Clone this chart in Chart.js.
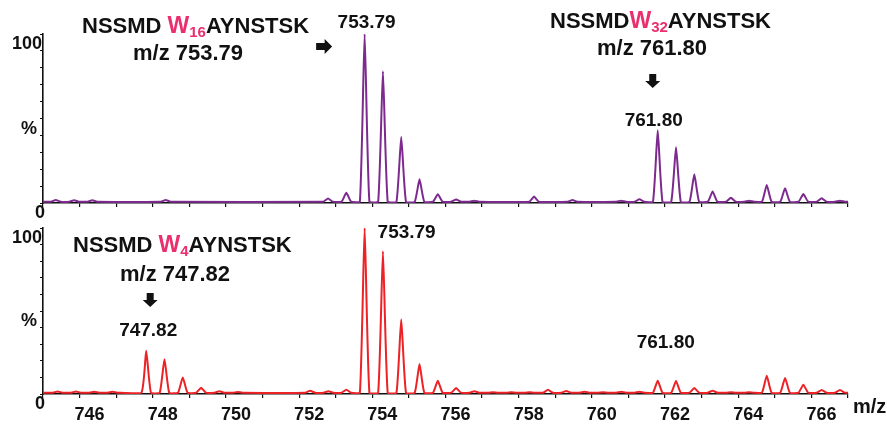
<!DOCTYPE html>
<html>
<head>
<meta charset="utf-8">
<title>NSSMDWAYNSTSK isotope envelopes</title>
<script src="https://cdn.jsdelivr.net/npm/chart.js@4.4.1/dist/chart.umd.min.js"></script>
<style>
  html, body { margin: 0; padding: 0; background: #fff; }
  #wrap { position: relative; width: 887px; height: 426px; }
  canvas { position: absolute; left: 0; }
  #topSpec { top: 0; }
  #botSpec { top: 215px; }
</style>
</head>
<body>
<div id="wrap">
  <canvas id="topSpec" width="887" height="222"></canvas>
  <canvas id="botSpec" width="887" height="211"></canvas>
</div>
<script>
// m/z window and axis labels
const mzMin = 745;
const mzMax = 767;
const yTickValues = [0, 50, 100];
const yTickText = ['0', '%', '100'];

// upper trace: peak centroids (m/z) and relative intensity (%)
const topMz = [745.35, 745.85, 746.35, 748.35, 752.79, 753.29, 753.79, 754.29, 754.79, 755.29,
  755.79, 756.29, 756.79, 758.42, 759.47, 760.80, 761.30, 761.80, 762.30, 762.80,
  763.30, 763.80, 764.30, 764.78, 765.28, 765.78, 766.28, 766.78];
const topPct = [1.8, 1.6, 1.6, 1.8, 2.6, 6, 100, 78, 39, 14,
  5.2, 2, 1.4, 3.8, 1.8, 1.4, 2.2, 43, 33, 17,
  6.8, 3.1, 1.4, 10.7, 8.7, 5.3, 2.8, 1.4];

// lower trace
const botMz = [745.40, 745.90, 746.40, 746.90, 747.82, 748.32, 748.82, 749.32, 749.82, 750.32,
  752.30, 752.80, 753.29, 753.79, 754.29, 754.79, 755.29, 755.79, 756.29, 756.79,
  757.30, 757.80, 758.30, 758.80, 759.30, 759.80, 760.30, 760.80, 761.30, 761.80,
  762.30, 762.80, 763.30, 763.80, 764.30, 764.78, 765.28, 765.78, 766.28, 766.78];
const botPct = [1.5, 1.5, 1.4, 1.3, 26, 21, 10, 3.8, 1.6, 1.2,
  2, 1.6, 2.6, 100, 86, 45, 18, 8, 3.6, 1.6,
  1.1, 1.1, 1.1, 2.5, 1.8, 1.3, 1, 1.4, 1.4, 8,
  7.8, 3.6, 2, 1.1, 1.1, 11, 9.7, 5.6, 2.4, 2.4];

// labelled peaks
const topLabelMz = [753.79, 761.80];
const botLabelMz = [747.82, 753.79, 761.80];

// look
const ink = '#111';
const pink = '#ea2e6e';
const purple = '#7d2a8f';
const red = '#ec2226';
const baseLevel = 0.8;
const peakHalfWidth = 0.13;
const family = '"Liberation Sans", Arial, sans-serif';

// each centroid becomes a narrow peak sitting on the baseline
function profile(mz, pct) {
  const pts = [{ x: mzMin, y: baseLevel }];
  mz.forEach((m, i) => {
    pts.push({ x: m - peakHalfWidth, y: baseLevel });
    pts.push({ x: m, y: pct[i] });
    pts.push({ x: m + peakHalfWidth, y: baseLevel });
  });
  pts.push({ x: mzMax, y: baseLevel });
  return pts;
}

// sequence name with coloured, subscripted W
function drawRich(ctx, x, y, parts) {
  ctx.textAlign = 'left';
  ctx.textBaseline = 'alphabetic';
  parts.forEach(p => {
    ctx.font = p.font;
    ctx.fillStyle = p.color || ink;
    ctx.fillText(p.t, x, y + (p.shift || 0));
    x += ctx.measureText(p.t).width;
  });
}

function drawArrow(ctx, x, y, dir) {
  ctx.fillStyle = ink;
  ctx.beginPath();
  if (dir === 'down') {
    // x is the centre, y the top
    ctx.rect(x - 3.5, y, 7, 7.5);
    ctx.moveTo(x - 7.5, y + 7);
    ctx.lineTo(x + 7.5, y + 7);
    ctx.lineTo(x, y + 14);
  } else {
    // x is the tail, y the centre
    ctx.rect(x, y - 3.5, 9, 7);
    ctx.moveTo(x + 8.5, y - 7.5);
    ctx.lineTo(x + 16, y);
    ctx.lineTo(x + 8.5, y + 7.5);
  }
  ctx.closePath();
  ctx.fill();
}

const bold = size => 'bold ' + size + 'px ' + family;

function seqName(num, gap) {
  return [
    { t: 'NSSMD' + (gap ? ' ' : ''), font: bold(22) },
    { t: 'W', font: bold(23), color: pink },
    { t: num, font: bold(15), color: pink, shift: 4 },
    { t: 'AYNSTSK', font: bold(22) }
  ];
}

const notesPlugin = {
  id: 'notes',
  afterDraw(chart, args, opts) {
    const ctx = chart.ctx;
    const xs = chart.scales.x;
    const ys = chart.scales.y;
    ctx.save();

    // y axis: 0, % and 100
    ctx.font = bold(18);
    ctx.fillStyle = ink;
    ctx.textAlign = 'right';
    ctx.textBaseline = 'alphabetic';
    yTickValues.forEach((v, i) => {
      const nudge = { 0: 2, 50: -6, 100: -1 }[v];
      ctx.fillText(yTickText[i], xs.left + nudge, ys.getPixelForValue(v) + 15);
    });

    (opts.names || []).forEach(n => {
      drawRich(ctx, n.x, n.y, seqName(n.num, n.gap));
    });

    ctx.fillStyle = ink;
    ctx.font = bold(22);
    ctx.textAlign = 'center';
    (opts.mzNotes || []).forEach(n => {
      ctx.fillText('m/z ' + n.mz.toFixed(2), n.x, n.y);
    });

    ctx.font = bold(19);
    opts.labels.forEach((m, i) => {
      const l = opts.labelPos[i];
      ctx.fillText(m.toFixed(2), xs.getPixelForValue(m) + l.dx, l.y);
    });

    (opts.arrows || []).forEach(a => {
      drawArrow(ctx, xs.getPixelForValue(a.mz) + a.dx, a.y, a.dir);
    });

    if (opts.unit) {
      ctx.font = bold(20);
      ctx.textAlign = 'left';
      ctx.fillText('m/z', xs.right + 5, ys.bottom + 19);
    }
    ctx.restore();
  }
};

function makeSpectrum(canvasId, pts, color, showLabels, padTop, axisHeight, notes) {
  return new Chart(document.getElementById(canvasId), {
    type: 'line',
    data: {
      datasets: [{
        data: pts,
        borderColor: color,
        borderWidth: 2,
        pointRadius: 0,
        tension: 0.15,
        borderJoinStyle: 'round',
        fill: false
      }]
    },
    options: {
      responsive: false,
      animation: false,
      events: [],
      parsing: false,
      layout: { padding: { top: padTop, right: 39, left: 0, bottom: 0 } },
      plugins: {
        legend: { display: false },
        tooltip: { enabled: false },
        notes: notes
      },
      scales: {
        x: {
          type: 'linear',
          min: mzMin,
          max: mzMax,
          afterFit: s => { s.height = axisHeight; },
          border: { color: ink, width: 1.6 },
          grid: { drawOnChartArea: false, tickLength: 4, color: ink, lineWidth: 1.2 },
          ticks: {
            display: showLabels,
            stepSize: 1,
            autoSkip: false,
            maxRotation: 0,
            labelOffset: 10,
            padding: 6,
            color: ink,
            font: { family: family, size: 18, weight: 'bold' },
            callback: v => (v % 2 === 0 && v > mzMin && v < mzMax) ? String(v) : ''
          }
        },
        y: {
          min: 0,
          max: 100,
          afterFit: s => { s.width = 43; },
          border: { color: ink, width: 1.6 },
          grid: { drawOnChartArea: false, tickLength: 3, color: ink, lineWidth: 1 },
          ticks: { display: false, stepSize: 10 }
        }
      }
    },
    plugins: [notesPlugin]
  });
}

makeSpectrum('topSpec', profile(topMz, topPct), purple, false, 34, 19, {
  names: [
    { num: '16', gap: true, x: 82, y: 32.5 },
    { num: '32', gap: false, x: 550, y: 28 }
  ],
  mzNotes: [
    { mz: 753.79, x: 188, y: 59.5 },
    { mz: 761.80, x: 652, y: 54.5 }
  ],
  labels: topLabelMz,
  labelPos: [{ dx: 2, y: 28 }, { dx: -4, y: 126 }],
  arrows: [
    { mz: 753.79, dx: -48.5, y: 46.5, dir: 'right' },
    { mz: 761.80, dx: -5, y: 74, dir: 'down' }
  ],
  unit: false
});

makeSpectrum('botSpec', profile(botMz, botPct), red, true, 13, 32, {
  names: [
    { num: '4', gap: true, x: 73, y: 37 }
  ],
  mzNotes: [
    { mz: 747.82, x: 175, y: 65.5 }
  ],
  labels: botLabelMz,
  labelPos: [{ dx: 2, y: 121 }, { dx: 42, y: 23 }, { dx: 8, y: 133 }],
  arrows: [
    { mz: 747.82, dx: 4, y: 78, dir: 'down' }
  ],
  unit: true
});
</script>
</body>
</html>
